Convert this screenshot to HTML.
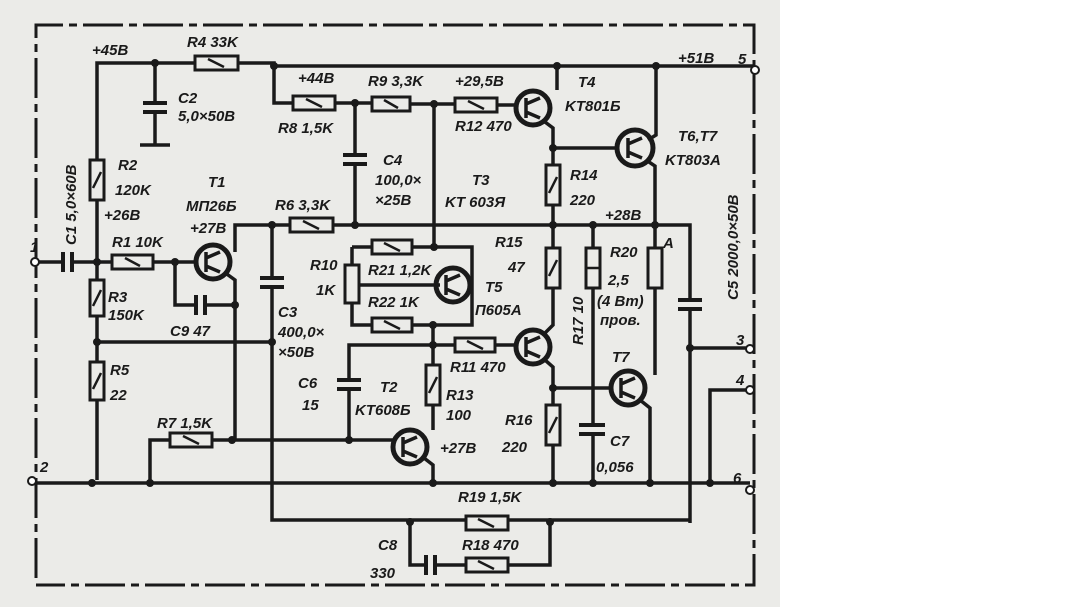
<!DOCTYPE html>
<html><head><meta charset="utf-8"><style>
html,body{margin:0;padding:0;background:#fff;}
svg{display:block}
text{font-family:"Liberation Sans",sans-serif;font-style:italic;font-weight:bold;font-size:15px;fill:#1a1a1a}
</style></head><body>
<svg width="1088" height="607" viewBox="0 0 1088 607" xmlns="http://www.w3.org/2000/svg">
<rect x="0" y="0" width="780" height="607" fill="#ebebe8"/>
<g stroke="#1a1a1a" stroke-width="3.5" fill="none">
<path d="M36 578 V25 H754 V585 H36" stroke-dasharray="40 6 8 6" stroke-width="3"/>
<path d="M97 480 V63 H195 M238 63 H274 V103 H293 M335 103 H372 M410 104 H455 M497 105 H515"/>
<path d="M274 66 H755"/>
<path d="M557 66 V90 M656 66 V135 L648 140"/>
<path d="M155 63 V103 M155 113 V145 M140 145 H170"/>
<path d="M355 103 V155 M355 165 V225"/>
<path d="M434 104 V247"/>
<path d="M545 122 L553 128 V165 M553 205 V225 M553 148 H617"/>
<path d="M646 160 L655 166 V225"/>
<path d="M235 252 V225 H290 M333 225 H690 V300 M690 310 V523"/>
<path d="M36 262 H62 M74 262 H112 M153 262 H198 M175 262 V305 H195 M205 305 H235 M224 272 L235 280 V440"/>
<path d="M97 342 H272"/>
<path d="M272 225 V278 M272 288 V520 H690"/>
<path d="M150 480 V440 H170 M212 440 H393"/>
<path d="M349 440 V390 M349 380 V345 H455 M495 345 H515"/>
<path d="M352 247 H372 M412 247 H472 V325 H412 M372 325 H352 V247 M360 285 H440 M433 325 V365 M433 405 V430 M424 458 L433 465 V483"/>
<path d="M545 333 L553 325 V288 M553 248 V225 M545 360 L553 367 V405 M553 445 V483 M553 388 H612"/>
<path d="M593 225 V248 M593 288 V425 M593 435 V483 M655 225 V248 M655 288 V375 M640 400 L650 408 V483"/>
<path d="M690 348 H750 M750 390 H710 V483"/>
<path d="M36 483 H750"/>
<path d="M410 520 V565 H425 M435 565 H466 M508 565 H550 V520"/>
</g>
<g fill="#ebebe8" stroke="#1a1a1a" stroke-width="3">
<rect x="195" y="56" width="43" height="14"/>
<rect x="293" y="96" width="42" height="14"/>
<rect x="372" y="97" width="38" height="14"/>
<rect x="455" y="98" width="42" height="14"/>
<rect x="290" y="218" width="43" height="14"/>
<rect x="112" y="255" width="41" height="14"/>
<rect x="90" y="160" width="14" height="40"/>
<rect x="90" y="280" width="14" height="36"/>
<rect x="90" y="362" width="14" height="38"/>
<rect x="170" y="433" width="42" height="14"/>
<rect x="372" y="240" width="40" height="14"/>
<rect x="372" y="318" width="40" height="14"/>
<rect x="345" y="265" width="14" height="38"/>
<rect x="455" y="338" width="40" height="14"/>
<rect x="426" y="365" width="14" height="40"/>
<rect x="546" y="165" width="14" height="40"/>
<rect x="546" y="248" width="14" height="40"/>
<rect x="586" y="248" width="14" height="40"/>
<rect x="648" y="248" width="14" height="40"/>
<rect x="546" y="405" width="14" height="40"/>
<rect x="466" y="516" width="42" height="14"/>
<rect x="466" y="558" width="42" height="14"/>
</g>
<!-- resistor slashes -->
<g stroke="#1a1a1a" stroke-width="2.5">
<path d="M208 59 L224 67 M306 99 L322 107 M384 100 L398 108 M468 101 L484 109 M303 221 L319 229 M125 258 L140 266 M183 436 L199 444 M384 243 L400 251 M384 321 L400 329 M467 341 L483 349 M478 519 L494 527 M478 561 L494 569"/>
<path d="M101 172 L93 188 M101 290 L93 306 M101 373 L93 389 M437 377 L429 393 M557 177 L549 193 M557 260 L549 276 M557 417 L549 433 M586 268 H600"/>
</g>
<g stroke="#1a1a1a" stroke-width="4">
<path d="M143 103 H167 M143 112 H167 M343 155 H367 M343 164 H367 M260 278 H284 M260 287 H284 M678 300 H702 M678 309 H702 M337 380 H361 M337 389 H361 M579 425 H605 M579 434 H605"/>
<path d="M63 252 V272 M72 252 V272 M196 295 V315 M205 295 V315 M426 555 V575 M435 555 V575"/>
</g>
<g fill="none" stroke="#1a1a1a" stroke-width="5">
<circle cx="213" cy="262" r="17"/><circle cx="533" cy="108" r="17"/><circle cx="635" cy="148" r="18"/>
<circle cx="453" cy="285" r="17"/><circle cx="533" cy="347" r="17"/><circle cx="628" cy="388" r="17"/>
<circle cx="410" cy="447" r="17"/>
</g>
<g stroke="#1a1a1a" stroke-width="3.5">
<path d="M206 252 V272 M206 258 L220 252 M206 266 L220 272 M526 98 V118 M526 104 L540 98 M526 112 L540 118 M628 138 V158 M628 144 L642 138 M628 152 L642 158 M446 275 V295 M446 281 L460 275 M446 289 L460 295 M526 337 V357 M526 343 L540 337 M526 351 L540 357 M621 378 V398 M621 384 L635 378 M621 392 L635 398 M403 437 V457 M403 443 L417 437 M403 451 L417 457"/>
</g>
<g fill="#1a1a1a">
<circle cx="155" cy="63" r="4"/><circle cx="274" cy="66" r="4"/><circle cx="557" cy="66" r="4"/><circle cx="656" cy="66" r="4"/>
<circle cx="355" cy="103" r="4"/><circle cx="434" cy="104" r="4"/><circle cx="553" cy="148" r="4"/>
<circle cx="272" cy="225" r="4"/><circle cx="355" cy="225" r="4"/><circle cx="553" cy="225" r="4"/><circle cx="593" cy="225" r="4"/><circle cx="655" cy="225" r="4"/>
<circle cx="97" cy="262" r="4"/><circle cx="175" cy="262" r="4"/><circle cx="235" cy="305" r="4"/><circle cx="97" cy="342" r="4"/><circle cx="272" cy="342" r="4"/>
<circle cx="434" cy="247" r="4"/><circle cx="433" cy="325" r="4"/><circle cx="433" cy="345" r="4"/><circle cx="553" cy="388" r="4"/><circle cx="690" cy="348" r="4"/>
<circle cx="232" cy="440" r="4"/><circle cx="349" cy="440" r="4"/>
<circle cx="92" cy="483" r="4"/><circle cx="150" cy="483" r="4"/><circle cx="433" cy="483" r="4"/><circle cx="553" cy="483" r="4"/><circle cx="593" cy="483" r="4"/><circle cx="650" cy="483" r="4"/><circle cx="710" cy="483" r="4"/>
<circle cx="410" cy="522" r="4"/><circle cx="550" cy="522" r="4"/>
</g>
<g fill="#fff" stroke="#1a1a1a" stroke-width="2">
<circle cx="35" cy="262" r="4"/><circle cx="32" cy="481" r="4"/><circle cx="755" cy="70" r="4"/><circle cx="750" cy="349" r="4"/><circle cx="750" cy="390" r="4"/><circle cx="750" cy="490" r="4"/>
</g>
<text x="92" y="55">+45B</text><text x="187" y="47">R4 33K</text>
<text x="178" y="103">C2</text><text x="178" y="121">5,0×50B</text>
<text x="298" y="83">+44B</text><text x="368" y="86">R9 3,3K</text><text x="455" y="86">+29,5B</text>
<text x="278" y="133">R8 1,5K</text><text x="455" y="131">R12 470</text>
<text x="578" y="87">T4</text><text x="565" y="111">KT801Б</text>
<text x="678" y="141">T6,T7</text><text x="665" y="165">KT803A</text>
<text x="678" y="63">+51B</text><text x="738" y="64">5</text>
<text x="383" y="165">C4</text><text x="375" y="185">100,0×</text><text x="375" y="205">×25B</text>
<text x="472" y="185">T3</text><text x="445" y="207">KT 603Я</text>
<text x="570" y="180">R14</text><text x="570" y="205">220</text><text x="605" y="220">+28B</text>
<text x="118" y="170">R2</text><text x="115" y="195">120K</text><text x="104" y="220">+26B</text>
<text x="208" y="187">T1</text><text x="186" y="211">MП26Б</text><text x="190" y="233">+27B</text>
<text x="275" y="210">R6 3,3K</text>
<text x="112" y="247">R1  10K</text>
<text x="108" y="302">R3</text><text x="108" y="320">150K</text>
<text x="170" y="336">C9 47</text>
<text x="110" y="375">R5</text><text x="110" y="400">22</text>
<text x="157" y="428">R7 1,5K</text>
<text x="310" y="270">R10</text><text x="316" y="295">1K</text>
<text x="368" y="275">R21 1,2K</text><text x="368" y="307">R22 1K</text>
<text x="485" y="292">T5</text><text x="475" y="315">П605A</text>
<text x="495" y="247">R15</text><text x="508" y="272">47</text>
<text x="610" y="257">R20</text><text x="608" y="285">2,5</text><text x="597" y="306">(4 Bm)</text><text x="600" y="325">пров.</text>
<text x="663" y="248">A</text>
<text x="278" y="317">C3</text><text x="278" y="337">400,0×</text><text x="278" y="357">×50B</text>
<text x="298" y="388">C6</text><text x="302" y="410">15</text>
<text x="380" y="392">T2</text><text x="355" y="415">KT608Б</text>
<text x="450" y="372">R11 470</text><text x="446" y="400">R13</text><text x="446" y="420">100</text><text x="440" y="453">+27B</text>
<text x="505" y="425">R16</text><text x="502" y="452">220</text>
<text x="612" y="362">T7</text><text x="610" y="446">C7</text><text x="596" y="472">0,056</text>
<text x="736" y="345">3</text><text x="736" y="385">4</text><text x="733" y="483">6</text>
<text x="30" y="252">1</text><text x="40" y="472">2</text>
<text x="458" y="502">R19  1,5K</text><text x="462" y="550">R18 470</text>
<text x="378" y="550">C8</text><text x="370" y="578">330</text>
<text transform="translate(76,245) rotate(-90)">C1 5,0×60B</text>
<text transform="translate(738,300) rotate(-90)">C5 2000,0×50B</text>
<text transform="translate(583,345) rotate(-90)">R17 10</text>
</svg>
</body></html>
